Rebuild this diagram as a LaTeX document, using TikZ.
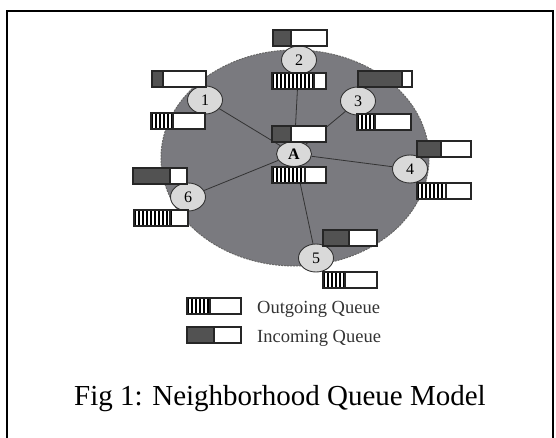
\documentclass[tikz,border=0pt]{standalone}
\usepackage{fontspec}
\setmainfont{Liberation Serif}
\usetikzlibrary{shapes.geometric}
\definecolor{cloud}{RGB}{122,122,127}
\definecolor{qdark}{RGB}{82,82,82}
\tikzset{
  peer/.style={ellipse,draw=black!80,line width=0.9pt,fill=black!15,
    minimum width=35pt,minimum height=28pt,inner sep=0pt,
    font=\fontsize{16}{18}\selectfont},
  qline/.style={draw=black!85,line width=1.2pt},
  link/.style={draw=black!80,line width=0.8pt},
}
% incoming queue: left, top, filled part
\newcommand\inqueue[3]{%
  \fill[white] (#1,#2) rectangle ++(54,16);
  \fill[qdark] (#1,#2) rectangle ++(#3,16);
  \draw[qline] (#1,#2) rectangle ++(54,16);
  \draw[qline] (#1+#3,#2) -- ++(0,16);}
% outgoing queue: left, top, striped part
\newcommand\outqueue[3]{%
  \fill[white] (#1,#2) rectangle ++(54,16);
  \foreach \s in {0,4,...,#3} \fill (#1+\s,#2) rectangle ++(2.2,16);
  \draw[qline] (#1,#2) rectangle ++(54,16);
  \draw[qline,line width=2pt] (#1+#3,#2) -- ++(0,16);}
\begin{document}
\begin{tikzpicture}[x=1pt,y=-1pt]
\useasboundingbox (0,0) rectangle (556,438);
\draw[line width=2.2pt] (7,438) -- (7,11) -- (553,11) -- (553,438);
% neighbourhood
\filldraw[fill=cloud,draw=black!60,dash pattern=on 2pt off 1pt,line width=1pt]
  (295,158) ellipse [x radius=134pt,y radius=108pt];
\node[peer,font=\fontsize{16}{18}\selectfont\bfseries,minimum height=25pt] (A) at (294,154) {A};
\node[peer] (n1) at (205,100) {1};
\node[peer] (n2) at (299,60) {2};
\node[peer] (n3) at (358,101) {3};
\node[peer] (n4) at (410,169) {4};
\node[peer] (n5) at (316,258) {5};
\node[peer] (n6) at (188,197) {6};
\foreach \n in {n1,n2,n3,n4,n5,n6}
  \draw[link] (A) -- (\n);
% queues
\inqueue{272}{126}{19}  \outqueue{272}{167}{33}
\inqueue{152}{71}{11}   \outqueue{151}{113}{22}
\inqueue{273}{30}{18}   \outqueue{272}{73}{42}
\inqueue{358}{71}{44}   \outqueue{357}{114}{18}
\inqueue{417}{141}{24}  \outqueue{417}{183}{29}
\inqueue{323}{230}{26}  \outqueue{323}{272}{22}
\inqueue{133}{168}{37}  \outqueue{134}{210}{36}
% legend
\outqueue{187}{298}{23}
\inqueue{187}{327}{27}
\node[anchor=base west,inner sep=0pt,font=\fontsize{18.5}{20}\selectfont,text=black!80] (out) at (257,313) {Outgoing Queue};
\node[anchor=base west,inner sep=0pt,font=\fontsize{18.5}{20}\selectfont,text=black!80] (inc) at (257,342) {Incoming Queue};
\node[anchor=base,inner sep=0pt,font=\fontsize{29}{32}\selectfont] (cap) at (280,405) {Fig 1: Neighborhood Queue Model};
\end{tikzpicture}
\end{document}
